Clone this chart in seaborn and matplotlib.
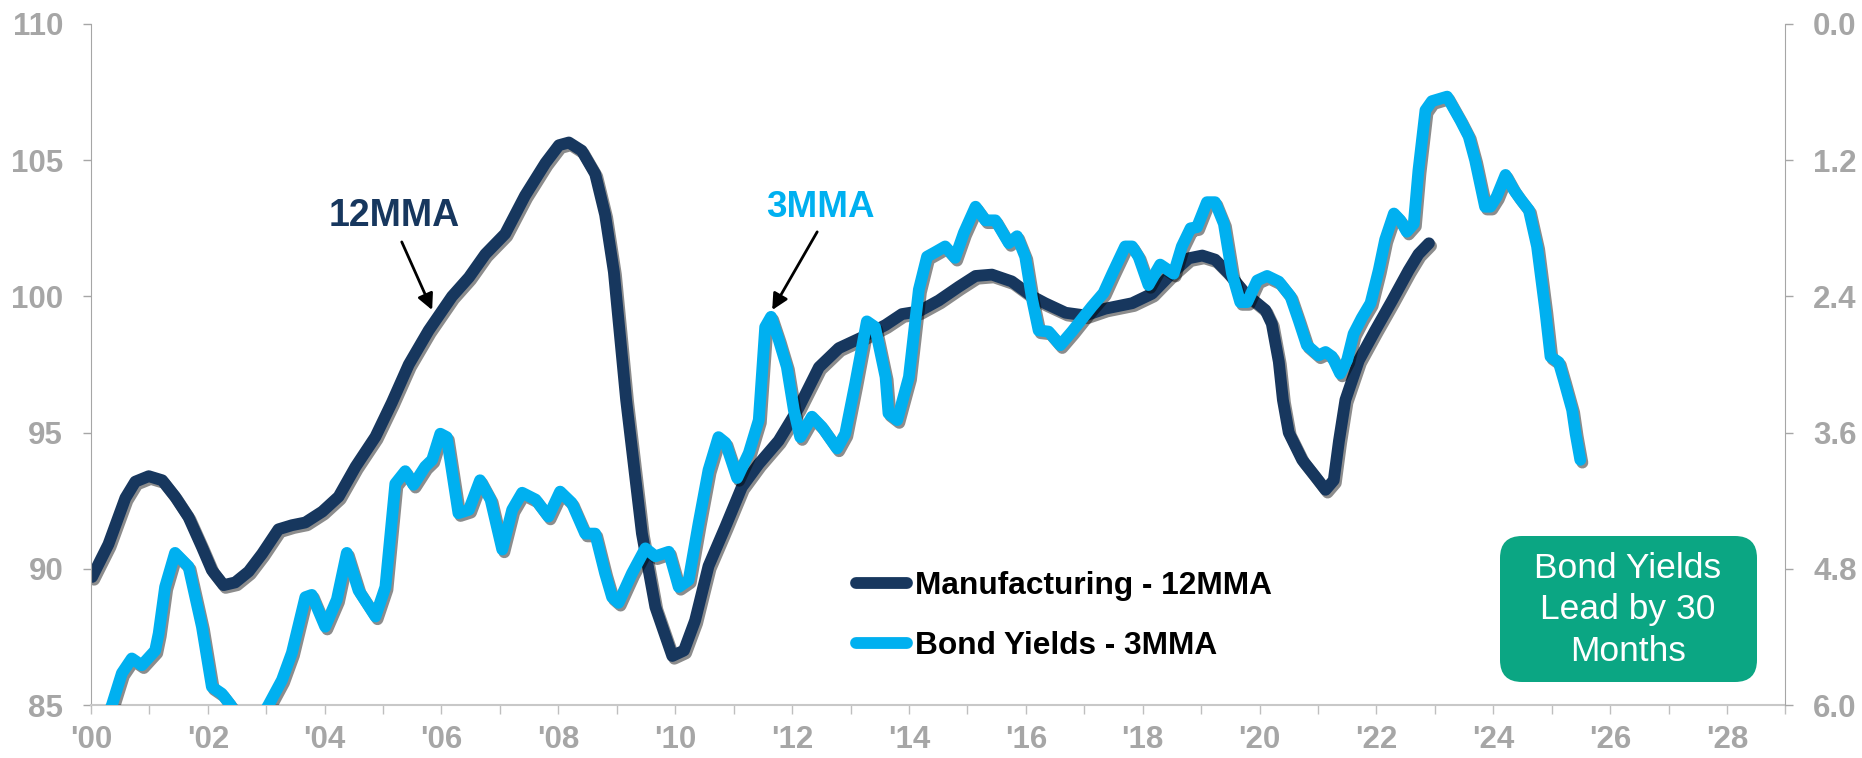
import matplotlib
matplotlib.use('Agg')
import seaborn as sns
import matplotlib.pyplot as plt
from matplotlib import patheffects as pe
from matplotlib.lines import Line2D
from matplotlib.patches import FancyBboxPatch
from matplotlib.transforms import IdentityTransform

# Manufacturing 12MMA (left axis)
mfg_year = [2000.02, 2000.30, 2000.59, 2000.76, 2000.99, 2001.22, 2001.44, 2001.67, 2001.90, 2002.07,
            2002.27, 2002.47, 2002.70, 2002.93, 2003.21, 2003.44, 2003.67, 2003.96, 2004.24, 2004.53,
            2004.87, 2005.15, 2005.44, 2005.78, 2006.18, 2006.47, 2006.75, 2007.09, 2007.43, 2007.78,
            2008.01, 2008.18, 2008.40, 2008.63, 2008.80, 2008.95, 2009.16, 2009.43, 2009.66, 2009.95,
            2010.15, 2010.34, 2010.57, 2010.86, 2011.14, 2011.43, 2011.77, 2012.11, 2012.46, 2012.80,
            2013.20, 2013.60, 2013.88, 2014.17, 2014.51, 2014.85, 2015.14, 2015.42, 2015.76, 2016.11,
            2016.33, 2016.68, 2017.02, 2017.36, 2017.82, 2018.16, 2018.50, 2018.79, 2019.02, 2019.24,
            2019.47, 2019.76, 2020.10, 2020.21, 2020.33, 2020.40, 2020.50, 2020.73, 2020.95, 2021.13,
            2021.27, 2021.36, 2021.47, 2021.70, 2021.98, 2022.27, 2022.55, 2022.72, 2022.90]
mfg_value = [89.7, 90.9, 92.6, 93.2, 93.4, 93.25, 92.65, 91.9, 90.8, 89.95,
             89.4, 89.5, 89.9, 90.55, 91.45, 91.6, 91.7, 92.1, 92.65, 93.75,
             94.85, 96.1, 97.5, 98.75, 100.0, 100.7, 101.55, 102.3, 103.7, 104.9,
             105.55, 105.65, 105.35, 104.5, 103.0, 100.9, 96.2, 91.3, 88.6, 86.8,
             87.0, 88.1, 90.1, 91.55, 93.0, 93.85, 94.7, 95.9, 97.4, 98.1,
             98.5, 98.95, 99.35, 99.45, 99.85, 100.35, 100.75, 100.8, 100.55, 100.0,
             99.75, 99.4, 99.3, 99.55, 99.75, 100.1, 100.85, 101.4, 101.5, 101.35,
             100.85, 100.1, 99.5, 99.0, 97.6, 96.2, 95.0, 94.0, 93.4, 92.9,
             93.25, 94.7, 96.2, 97.65, 98.75, 99.85, 100.95, 101.55, 101.95]

# Bond yields 3MMA, led by 30 months (right axis, inverted)
bond_year = [2000.00, 2000.36, 2000.53, 2000.70, 2000.87, 2001.10, 2001.16, 2001.27, 2001.44, 2001.67,
             2001.90, 2002.07, 2002.24, 2002.39, 2002.70, 2003.04, 2003.27, 2003.44, 2003.67, 2003.78,
             2004.01, 2004.21, 2004.38, 2004.58, 2004.87, 2005.04, 2005.21, 2005.38, 2005.52, 2005.72,
             2005.84, 2005.98, 2006.09, 2006.29, 2006.47, 2006.66, 2006.84, 2007.04, 2007.21, 2007.38,
             2007.61, 2007.83, 2008.03, 2008.23, 2008.46, 2008.63, 2008.80, 2008.92, 2009.03, 2009.26,
             2009.49, 2009.66, 2009.89, 2010.06, 2010.23, 2010.40, 2010.57, 2010.74, 2010.86, 2011.06,
             2011.26, 2011.43, 2011.54, 2011.64, 2011.77, 2011.91, 2012.03, 2012.14, 2012.34, 2012.51,
             2012.77, 2012.91, 2013.08, 2013.28, 2013.42, 2013.60, 2013.65, 2013.80, 2014.00, 2014.17,
             2014.31, 2014.45, 2014.62, 2014.79, 2014.94, 2015.14, 2015.31, 2015.48, 2015.71, 2015.85,
             2015.99, 2016.11, 2016.22, 2016.39, 2016.59, 2016.79, 2017.13, 2017.33, 2017.48, 2017.70,
             2017.82, 2017.93, 2018.10, 2018.30, 2018.53, 2018.67, 2018.82, 2018.93, 2019.10, 2019.24,
             2019.39, 2019.53, 2019.67, 2019.79, 2019.96, 2020.13, 2020.33, 2020.53, 2020.67, 2020.81,
             2021.01, 2021.13, 2021.24, 2021.38, 2021.50, 2021.61, 2021.75, 2021.90, 2022.04, 2022.15,
             2022.30, 2022.41, 2022.52, 2022.64, 2022.72, 2022.84, 2022.95, 2023.21, 2023.44, 2023.58,
             2023.69, 2023.86, 2023.95, 2024.06, 2024.21, 2024.35, 2024.46, 2024.61, 2024.75, 2024.89,
             2024.98, 2025.12, 2025.21, 2025.35, 2025.41, 2025.49]
bond_value = [6.45, 6.0, 5.72, 5.59, 5.65, 5.52, 5.37, 4.96, 4.66, 4.78,
              5.31, 5.84, 5.90, 6.0, 6.3, 6.0, 5.78, 5.54, 5.05, 5.03,
              5.31, 5.07, 4.66, 4.99, 5.22, 4.96, 4.05, 3.94, 4.06, 3.90,
              3.84, 3.61, 3.64, 4.31, 4.28, 4.02, 4.19, 4.63, 4.28, 4.13,
              4.19, 4.34, 4.12, 4.22, 4.49, 4.49, 4.84, 5.05, 5.10, 4.84,
              4.62, 4.69, 4.65, 4.96, 4.90, 4.40, 3.93, 3.64, 3.69, 4.00,
              3.78, 3.49, 2.67, 2.58, 2.78, 3.02, 3.40, 3.64, 3.46, 3.55,
              3.74, 3.61, 3.17, 2.62, 2.67, 3.11, 3.43, 3.49, 3.11, 2.34,
              2.05, 2.01, 1.96, 2.06, 1.84, 1.61, 1.73, 1.73, 1.93, 1.87,
              2.05, 2.43, 2.70, 2.71, 2.83, 2.71, 2.49, 2.37, 2.20, 1.96,
              1.96, 2.05, 2.30, 2.12, 2.20, 1.96, 1.80, 1.79, 1.57, 1.57,
              1.76, 2.20, 2.45, 2.45, 2.26, 2.22, 2.27, 2.40, 2.61, 2.83,
              2.92, 2.89, 2.93, 3.08, 2.96, 2.73, 2.59, 2.46, 2.17, 1.90,
              1.67, 1.73, 1.83, 1.76, 1.29, 0.76, 0.68, 0.64, 0.85, 0.99,
              1.20, 1.61, 1.61, 1.52, 1.33, 1.46, 1.54, 1.64, 1.96, 2.52,
              2.93, 2.98, 3.14, 3.40, 3.61, 3.84]

x_ticks = list(range(2000, 2029, 2))
x_labels = ["'%02d" % (y % 100) for y in x_ticks]
left_ticks = [85, 90, 95, 100, 105, 110]
right_ticks = [0.0, 1.2, 2.4, 3.6, 4.8, 6.0]
series_names = ['Manufacturing - 12MMA', 'Bond Yields - 3MMA']

NAVY = '#17375E'
BLUE = '#00B0F0'
GREEN = '#0BA683'
GREY = '#A6A6A6'

sns.set_style('white')
plt.rcParams['font.family'] = ['Liberation Sans', 'DejaVu Sans']

fig = plt.figure(figsize=(18.62, 7.58), dpi=100)
ax = fig.add_axes([0.04882, 0.06992, 0.91004, 0.89842])
ax2 = ax.twinx()

shadow = [pe.SimpleLineShadow(offset=(1.5, -2), shadow_color='black', alpha=0.45), pe.Normal()]

sns.lineplot(x=mfg_year, y=mfg_value, ax=ax, color=NAVY, linewidth=8.5, sort=False,
             estimator=None, solid_capstyle='round', solid_joinstyle='round', path_effects=shadow)
sns.lineplot(x=bond_year, y=bond_value, ax=ax2, color=BLUE, linewidth=8.5, sort=False,
             estimator=None, solid_capstyle='round', solid_joinstyle='round', path_effects=shadow)

ax.set_xlim(2000, 2029)
ax.set_ylim(85, 110)
ax2.set_ylim(6, 0)

ax.set_xticks(x_ticks)
ax.set_xticklabels(x_labels)
ax.set_xticks(range(2001, 2030, 2), minor=True)
ax.set_yticks(left_ticks)
ax.set_yticklabels([str(v) for v in left_ticks])
ax2.set_yticks(right_ticks)
ax2.set_yticklabels(['%.1f' % v for v in right_ticks])

ax.tick_params(axis='x', which='both', bottom=True, length=6.5, width=1, color='#BFBFBF',
               direction='out', pad=8, labelsize=22.5, labelcolor=GREY)
ax.tick_params(axis='y', left=True, length=6, width=1, color=GREY, direction='out',
               pad=14, labelsize=22.5, labelcolor=GREY)
ax2.tick_params(axis='y', right=True, length=6, width=1, color=GREY, direction='out',
                pad=14, labelsize=22.5, labelcolor=GREY)
for lbl in ax.get_xticklabels() + ax.get_yticklabels() + ax2.get_yticklabels():
    lbl.set_fontweight('bold')

for s in ['top', 'right']:
    ax.spines[s].set_visible(False)
for s in ['top', 'bottom', 'left']:
    ax2.spines[s].set_visible(False)
ax.spines['left'].set_color(GREY)
ax.spines['bottom'].set_color('#C8C8C8')
ax.spines['bottom'].set_linewidth(1.5)
ax2.spines['right'].set_color(GREY)
ax.set_xlabel('')
ax.set_ylabel('')
ax2.set_ylabel('')

# callouts
ax.text(2005.19, 102.95, '12MMA', ha='center', va='center', fontsize=27, fontweight='bold', color=NAVY)
ax.annotate('', xy=(2005.84, 99.5), xytext=(2005.32, 102.0),
            arrowprops=dict(arrowstyle='-|>', color='black', lw=2, mutation_scale=24, shrinkA=0, shrinkB=0))
ax.text(2012.48, 103.28, '3MMA', ha='center', va='center', fontsize=26.5, fontweight='bold', color=BLUE)
ax.annotate('', xy=(2011.66, 99.5), xytext=(2012.43, 102.37),
            arrowprops=dict(arrowstyle='-|>', color='black', lw=2, mutation_scale=24, shrinkA=0, shrinkB=0))

handles = [Line2D([], [], color=NAVY, lw=8.5, solid_capstyle='round'),
           Line2D([], [], color=BLUE, lw=8.5, solid_capstyle='round')]
leg = fig.legend(handles, series_names, loc='upper left', bbox_to_anchor=(856 / 1862, 1 - 571 / 758),
                 frameon=False, borderpad=0, borderaxespad=0, handlelength=1.6, handletextpad=0.25,
                 labelspacing=0.95, prop=dict(size=22.8, weight='bold'))
for t in leg.get_texts():
    t.set_color('black')

box = FancyBboxPatch((1500, 76), 257, 146, boxstyle='round,pad=0,rounding_size=22',
                     transform=IdentityTransform(), fc=GREEN, ec='none')
fig.add_artist(box)
fig.text(1628 / 1862, 1 - 610 / 758, 'Bond Yields\nLead by 30\nMonths', ha='center', va='center',
         color='white', fontsize=25.5, fontweight='normal', linespacing=1.34)

fig.savefig('out.png', dpi=100)
